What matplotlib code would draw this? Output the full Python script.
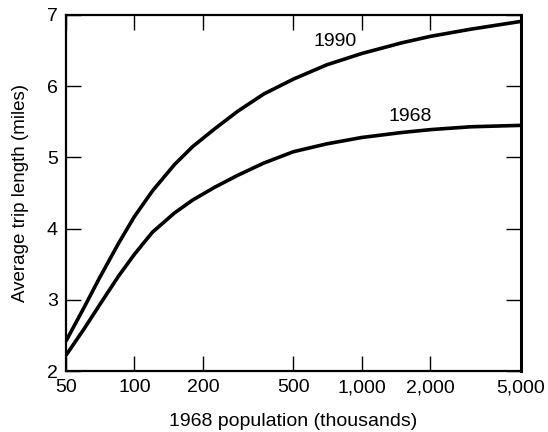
import matplotlib.pyplot as plt
from matplotlib.ticker import FixedLocator, FixedFormatter, NullLocator

plt.rcParams['font.family'] = ['Liberation Sans', 'DejaVu Sans']

# city population in 1968 (thousands) and average trip length (miles)
population = [50, 60, 70, 85, 100, 120, 150, 180, 225, 285, 370, 500,
              700, 1000, 1500, 2000, 3000, 5000]
trip_1990 = [2.42, 2.89, 3.30, 3.79, 4.17, 4.53, 4.90, 5.15, 5.40, 5.65,
             5.89, 6.10, 6.30, 6.46, 6.61, 6.70, 6.80, 6.91]
trip_1968 = [2.22, 2.59, 2.92, 3.33, 3.64, 3.95, 4.22, 4.40, 4.58, 4.75,
             4.92, 5.08, 5.19, 5.28, 5.35, 5.39, 5.43, 5.45]

x_ticks = [50, 100, 200, 500, 1000, 2000, 5000]
x_labels = ["50", "100", "200", "500", "1,000", "2,000", "5,000"]
y_ticks = [2, 3, 4, 5, 6, 7]

fig = plt.figure(figsize=(5.48, 4.32), dpi=100)
ax = fig.add_axes([0.1204, 0.1412, 0.8303, 0.8241])

ax.plot(population, trip_1990, color="black", lw=2.6,
        solid_joinstyle="round", solid_capstyle="butt")
ax.plot(population, trip_1968, color="black", lw=2.6,
        solid_joinstyle="round", solid_capstyle="butt")

ax.text(760, 6.63, "1990", fontsize=14, ha="center", va="center")
ax.text(1630, 5.58, "1968", fontsize=14, ha="center", va="center")

ax.set_xscale("log")
ax.set_xlim(50, 5000)
ax.set_ylim(2, 7)
ax.xaxis.set_major_locator(FixedLocator(x_ticks))
ax.xaxis.set_major_formatter(FixedFormatter(x_labels))
ax.xaxis.set_minor_locator(NullLocator())
ax.set_yticks(y_ticks)

ax.tick_params(axis="both", direction="in", length=11, width=1,
               top=True, right=True, labelsize=14, pad=6)

for side in ["left", "top", "bottom"]:
    ax.spines[side].set_linewidth(1.6)
ax.spines["right"].set_linewidth(2.2)

ax.set_xlabel("1968 population (thousands)", fontsize=14, labelpad=12)
ax.set_ylabel("Average trip length (miles)", fontsize=13.5, labelpad=13)

plt.savefig("out.png", dpi=100)
